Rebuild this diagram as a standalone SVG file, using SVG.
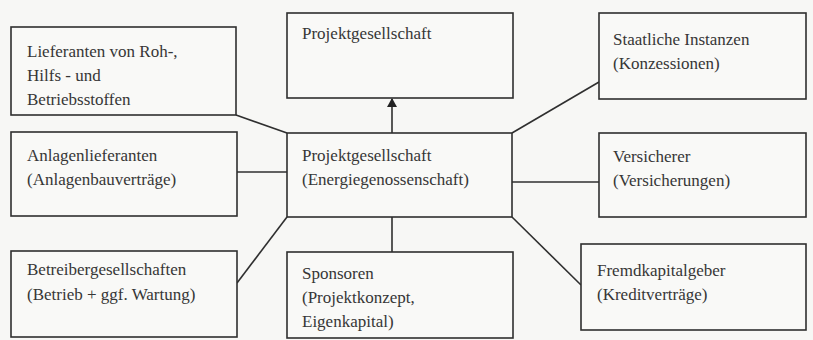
<svg xmlns="http://www.w3.org/2000/svg" width="813" height="340" viewBox="0 0 813 340">
<defs>
<style>
.box{fill:#f9f9f7;stroke:#2f2f2f;stroke-width:1.6}
.t{font-family:"Liberation Serif","Times New Roman",serif;font-size:17px;fill:#363636}
.c{stroke:#2f2f2f;stroke-width:1.6;fill:none}
</style>
<marker id="ah" markerWidth="10" markerHeight="10" refX="8" refY="5" orient="auto" markerUnits="userSpaceOnUse">
<path d="M0,0 L9,5 L0,10 Z" fill="#222"/>
</marker>
</defs>
<rect width="813" height="340" fill="#f7f7f5"/>
<g id="connectors">
<line class="c" x1="392" y1="133" x2="392" y2="99" marker-end="url(#ah)"/>
<line class="c" x1="236" y1="115" x2="287" y2="133"/>
<line class="c" x1="237" y1="172" x2="287" y2="172"/>
<line class="c" x1="237" y1="283" x2="287" y2="217"/>
<line class="c" x1="392" y1="217" x2="392" y2="252"/>
<line class="c" x1="512" y1="217" x2="581" y2="285"/>
<line class="c" x1="512" y1="182" x2="599" y2="182"/>
<line class="c" x1="512" y1="133" x2="599" y2="82"/>
</g>
<g id="lieferanten">
<rect class="box" x="11" y="27" width="225" height="88"/>
<text class="t" x="27" y="57">Lieferanten von Roh-,</text>
<text class="t" x="27" y="81">Hilfs - und</text>
<text class="t" x="27" y="105">Betriebsstoffen</text>
</g>
<g id="projekt-top">
<rect class="box" x="287" y="13" width="226" height="85"/>
<text class="t" x="302" y="39">Projektgesellschaft</text>
</g>
<g id="staatliche">
<rect class="box" x="599" y="13" width="207" height="86"/>
<text class="t" x="613" y="45">Staatliche Instanzen</text>
<text class="t" x="613" y="69">(Konzessionen)</text>
</g>
<g id="anlagen">
<rect class="box" x="11" y="132" width="226" height="84"/>
<text class="t" x="27" y="161">Anlagenlieferanten</text>
<text class="t" x="27" y="185">(Anlagenbauverträge)</text>
</g>
<g id="projekt-center">
<rect class="box" x="287" y="133" width="225" height="84"/>
<text class="t" x="302" y="161">Projektgesellschaft</text>
<text class="t" x="302" y="185">(Energiegenossenschaft)</text>
</g>
<g id="versicherer">
<rect class="box" x="599" y="133" width="207" height="84"/>
<text class="t" x="613" y="162">Versicherer</text>
<text class="t" x="613" y="186">(Versicherungen)</text>
</g>
<g id="betreiber">
<rect class="box" x="11" y="251" width="226" height="86"/>
<text class="t" x="27" y="275">Betreibergesellschaften</text>
<text class="t" x="27" y="300">(Betrieb + ggf. Wartung)</text>
</g>
<g id="sponsoren">
<rect class="box" x="287" y="252" width="226" height="86"/>
<text class="t" x="302" y="279">Sponsoren</text>
<text class="t" x="302" y="303">(Projektkonzept,</text>
<text class="t" x="302" y="327">Eigenkapital)</text>
</g>
<g id="fremdkapital">
<rect class="box" x="581" y="244" width="225" height="86"/>
<text class="t" x="597" y="276">Fremdkapitalgeber</text>
<text class="t" x="597" y="300">(Kreditverträge)</text>
</g>
</svg>
